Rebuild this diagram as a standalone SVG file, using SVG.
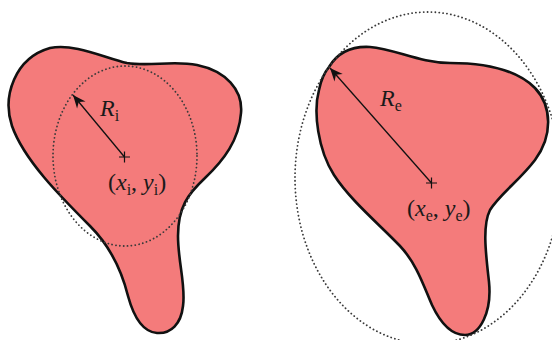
<svg xmlns="http://www.w3.org/2000/svg" width="552" height="340" viewBox="0 0 552 340">
<style>
.shape{fill:#f47b7b;stroke:#111;stroke-width:2.6;stroke-linejoin:round}
.dots{fill:none;stroke:#3a3a3a;stroke-width:1.8;stroke-dasharray:0.1 3.8;stroke-linecap:round}
.arr{fill:none;stroke:#111;stroke-width:1.3}
.cross{fill:none;stroke:#111;stroke-width:1.2}
.lab{font-family:"Liberation Serif","DejaVu Serif",serif;font-size:24px;fill:#1a1a1a}
.it{font-style:italic}
.sub{font-size:16px}
</style>
<defs>
<marker id="ah" markerUnits="userSpaceOnUse" markerWidth="16" markerHeight="14" viewBox="-14 -7 16 14" refX="0" refY="0" orient="auto">
<path d="M0,0 L-13,-5.5 L-9,0 L-13,5.5 Z" fill="#111"/>
</marker>
</defs>
<rect width="552" height="340" fill="#fff"/>
<g id="inner-shape">
<path class="shape" d="M50,48 C75,43 105,58 127,63 C150,67 172,60 197,65 C226,71 243,90 241,113 C239,140 224,160 205,178 C188,194 178,207 178,236 C178,262 186,286 183,306 C181,324 171,334 157,333 C143,332 134,318 128,296 C121,268 110,246 90,226 C60,196 24,160 12,126 C2,96 15,58 50,48 Z"/>
<ellipse class="dots" cx="125" cy="156" rx="72" ry="90"/>
<path class="cross" d="M119,157 H130 M124.5,151.5 V162.5"/>
<text class="lab" x="100" y="116"><tspan class="it">R</tspan><tspan class="sub" dy="5">i</tspan></text>
<text class="lab" x="108" y="190">(<tspan class="it">x</tspan><tspan class="sub" dy="5">i</tspan><tspan dy="-5">, </tspan><tspan class="it">y</tspan><tspan class="sub" dy="5">i</tspan><tspan dy="-5">)</tspan></text>
</g>
<g id="outer-shape">
<path class="shape" d="M329,67 C338,52 352,46 370,47 C395,49 420,63 450,63 C480,63 515,68 535,88 C552,106 553,136 535,160 C520,180 500,194 490,210 C482,226 486,255 489,282 C492,312 480,335 465,335 C450,335 440,322 432,305 C424,287 417,264 400,246 C380,225 350,200 334,175 C318,150 313,112 319,90 C321,80 324,73 329,67 Z"/>
<ellipse class="dots" cx="428" cy="178" rx="133" ry="166"/>
<path class="cross" d="M426,183 H437 M431.5,177.5 V188.5"/>
<text class="lab" x="380" y="106"><tspan class="it">R</tspan><tspan class="sub" dy="5">e</tspan></text>
<text class="lab" x="407" y="216">(<tspan class="it">x</tspan><tspan class="sub" dy="5">e</tspan><tspan dy="-5">, </tspan><tspan class="it">y</tspan><tspan class="sub" dy="5">e</tspan><tspan dy="-5">)</tspan></text>
</g>
<g id="connectors">
<line class="arr" x1="124.5" y1="157" x2="73" y2="95" marker-end="url(#ah)"/>
<line class="arr" x1="431.5" y1="183" x2="330" y2="68" marker-end="url(#ah)"/>
</g>
</svg>
